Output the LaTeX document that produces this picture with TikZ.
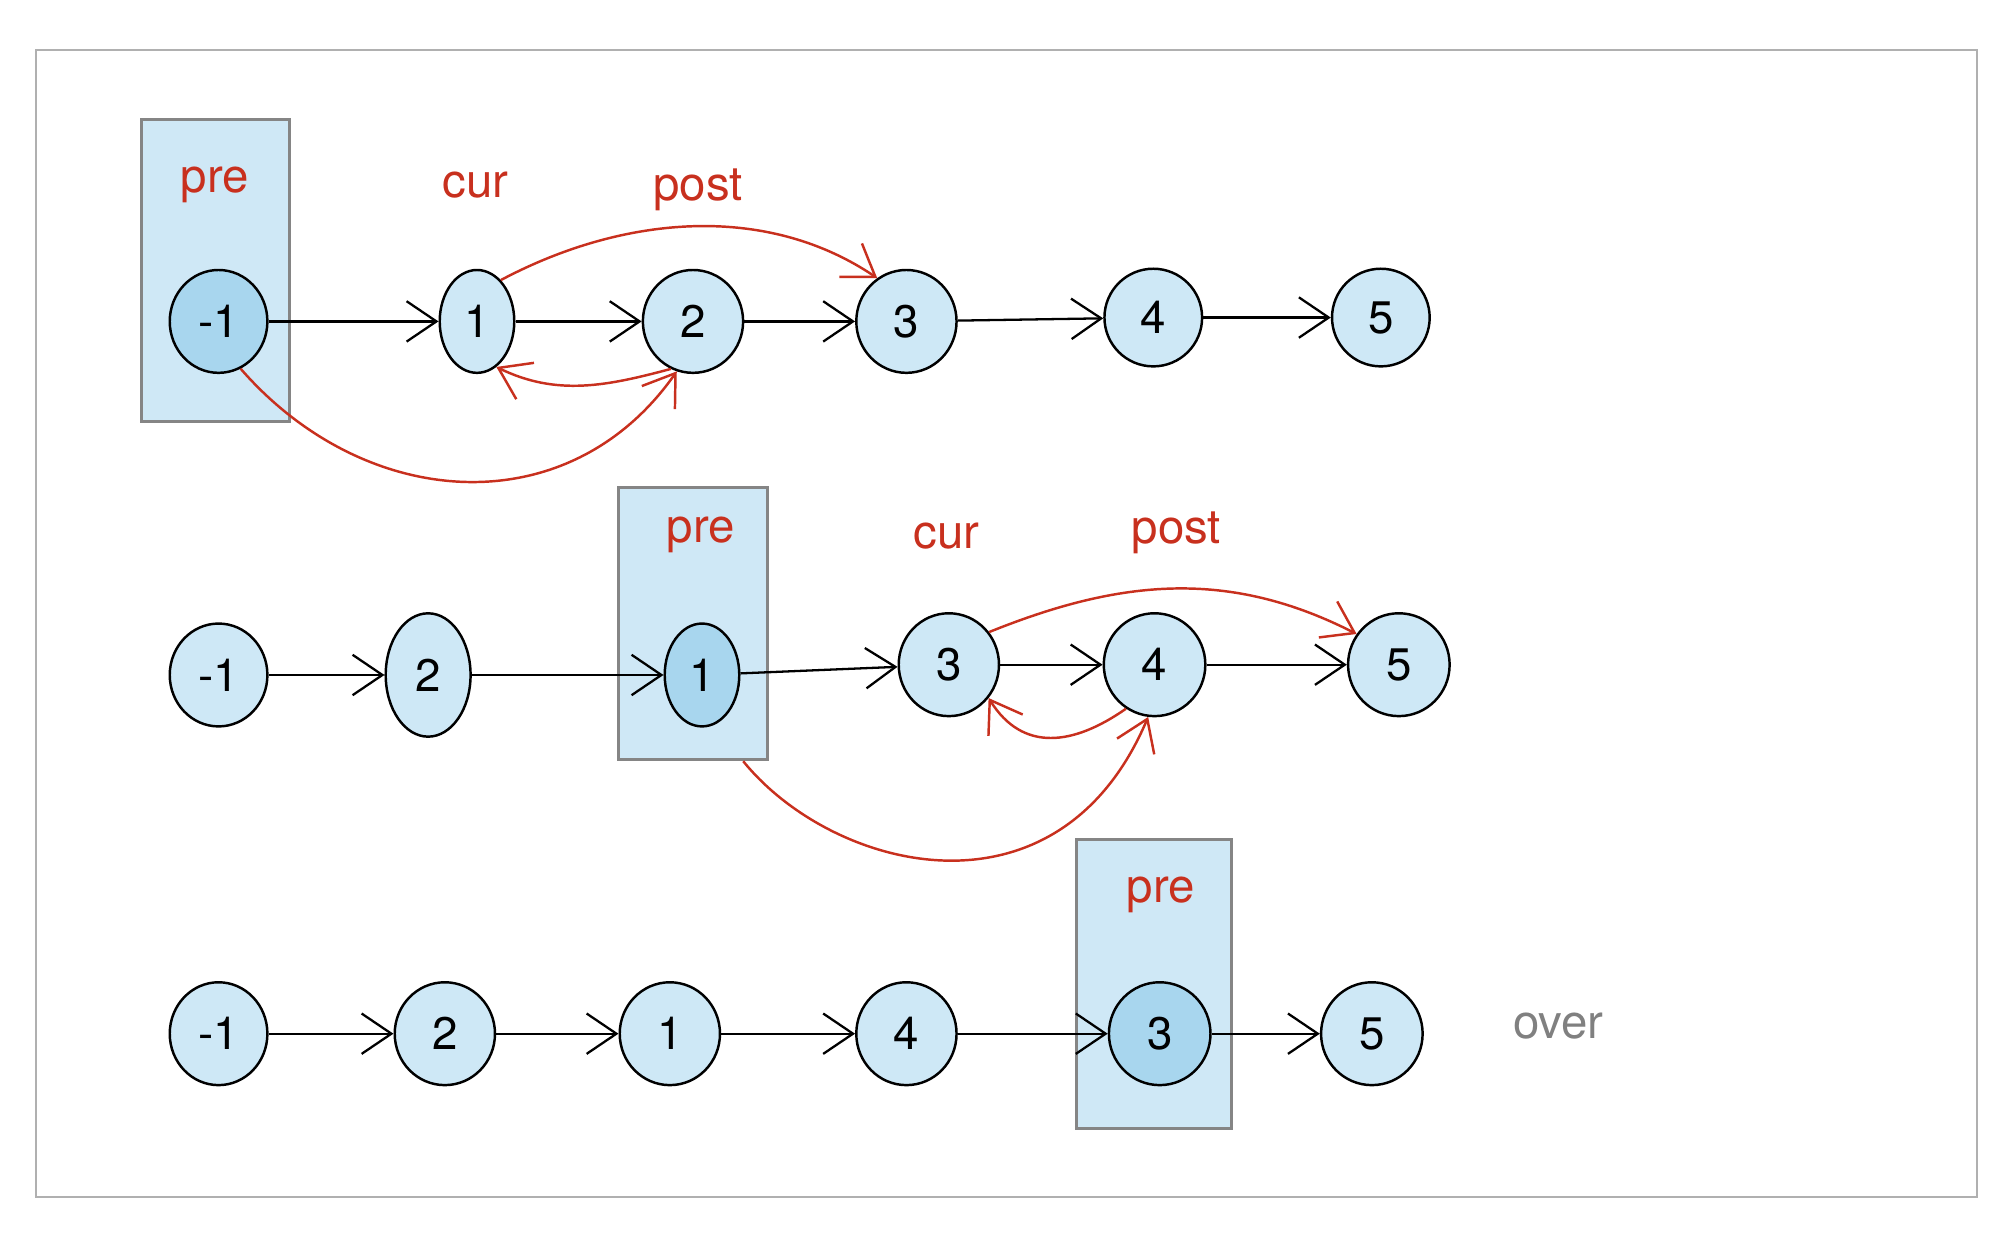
\documentclass[tikz,border=0pt]{standalone}
\usepackage{fontspec}
\setmainfont{TeX Gyre Heros}
\usetikzlibrary{arrows.meta,shapes.geometric,calc}
\definecolor{nodefill}{HTML}{CEE8F6}
\definecolor{nodedark}{HTML}{A8D6EE}
\definecolor{boxfill}{HTML}{CFE8F6}
\definecolor{boxline}{HTML}{858585}
\definecolor{ptr}{HTML}{C8301E}
\definecolor{framegray}{HTML}{B0B0B0}
\definecolor{overgray}{HTML}{808080}

\begin{document}
\begin{tikzpicture}[x=0.012857cm,y=0.012857cm,
  lnode/.style 2 args={ellipse,draw,line width=0.7pt,fill=nodefill,inner sep=0pt,
    minimum width=#1,minimum height=#2,font=\fontsize{13}{15}\selectfont},
  memo/.style 2 args={rectangle,draw=boxline,line width=0.8pt,fill=boxfill,inner sep=0pt,
    minimum width=#1,minimum height=#2},
  tag/.style={text=ptr,font=\fontsize{13.5}{16}\selectfont,anchor=base,inner sep=0pt},
  link/.style={draw,line width=0.65pt,-{Straight Barb[length=8.5pt,width=11.5pt]}},
  swing/.style={draw=ptr,line width=0.7pt,-{Straight Barb[length=8.5pt,width=11.5pt]}}]

\useasboundingbox (0,0) rectangle (1568,971);
\draw[framegray,line width=0.6pt] (28,932) rectangle (1538,40);

% pointer boxes
\node[memo={1.479cm}{3.021cm}] (r1box) at (167.5,760.5) {};
\node[memo={1.491cm}{2.726cm}] (r2box) at (539,486) {};
\node[memo={1.556cm}{2.893cm}] (r3box) at (897.5,205.5) {};

% labels
\node[tag] (preA) at (167,821) {pre};
\node[tag] (curA) at (370,817) {cur};
\node[tag] (postA) at (543,815) {post};
\node[tag] (preB) at (545,549) {pre};
\node[tag] (curB) at (736,544) {cur};
\node[tag] (postB) at (915,548) {post};
\node[tag] (preC) at (903,269) {pre};
\node[tag,text=overgray] (done) at (1212,163.5) {over};

% first list
\node[lnode={0.977cm}{1.029cm},fill=nodedark] (a0) at (170,721) {-1};
\node[lnode={0.746cm}{1.029cm}] (a1) at (371,721) {1};
\node[lnode={1.003cm}{1.029cm}] (a2) at (539,721) {2};
\node[lnode={1.003cm}{1.029cm}] (a3) at (705,721) {3};
\node[lnode={0.977cm}{0.977cm}] (a4) at (897,724) {4};
\node[lnode={0.977cm}{0.977cm}] (a5) at (1074,724) {5};

% second list
\node[lnode={0.977cm}{1.029cm}] (b0) at (170,446) {-1};
\node[lnode={0.849cm}{1.234cm}] (b1) at (333,446) {2};
\node[lnode={0.746cm}{1.029cm},fill=nodedark] (b2) at (546,446) {1};
\node[lnode={1.003cm}{1.029cm}] (b3) at (738,454) {3};
\node[lnode={1.016cm}{1.029cm}] (b4) at (898,454) {4};
\node[lnode={1.016cm}{1.029cm}] (b5) at (1088,454) {5};

% third list
\node[lnode={0.977cm}{1.029cm}] (c0) at (170,167) {-1};
\node[lnode={1.003cm}{1.029cm}] (c1) at (346,167) {2};
\node[lnode={1.003cm}{1.029cm}] (c2) at (521,167) {1};
\node[lnode={1.003cm}{1.029cm}] (c3) at (705,167) {4};
\node[lnode={1.016cm}{1.029cm},fill=nodedark] (c4) at (902,167) {3};
\node[lnode={1.016cm}{1.029cm}] (c5) at (1067,167) {5};

% next links
\draw[link] (a0) -- (a1);
\draw[link] (a1) -- (a2);
\draw[link] (a2) -- (a3);
\draw[link] (a3) -- (a4);
\draw[link] (a4) -- (a5);
\draw[link] (b0) -- (b1);
\draw[link] (b1) -- (b2);
\draw[link] (b2) -- (b3);
\draw[link] (b3) -- (b4);
\draw[link] (b4) -- (b5);
\draw[link] (c0) -- (c1);
\draw[link] (c1) -- (c2);
\draw[link] (c2) -- (c3);
\draw[link] (c3) -- (c4);
\draw[link] (c4) -- (c5);

% pointer rewiring, first step
\draw[swing] (a1.60) .. controls +(28:106) and +(146:106) .. (a3.124);
\draw[swing] (a2.245) .. controls +(195:52) and +(-26:52) .. (a1.293);
\draw[swing] (a0.295) .. controls +(-49:147) and +(235:147) .. (a2.252);

% pointer rewiring, second step
\coordinate (r2from) at ($(r2box.south east)+(-20,0)$);
\draw[swing] (b3.39) .. controls +(22:111) and +(153:111) .. (b5.144);
\draw[swing] (b4.237) .. controls +(215:50) and +(-58:50) .. (b3.320);
\draw[swing] (r2from) .. controls +(-51:110) and +(247:180) .. (b4.263);
\end{tikzpicture}
\end{document}
